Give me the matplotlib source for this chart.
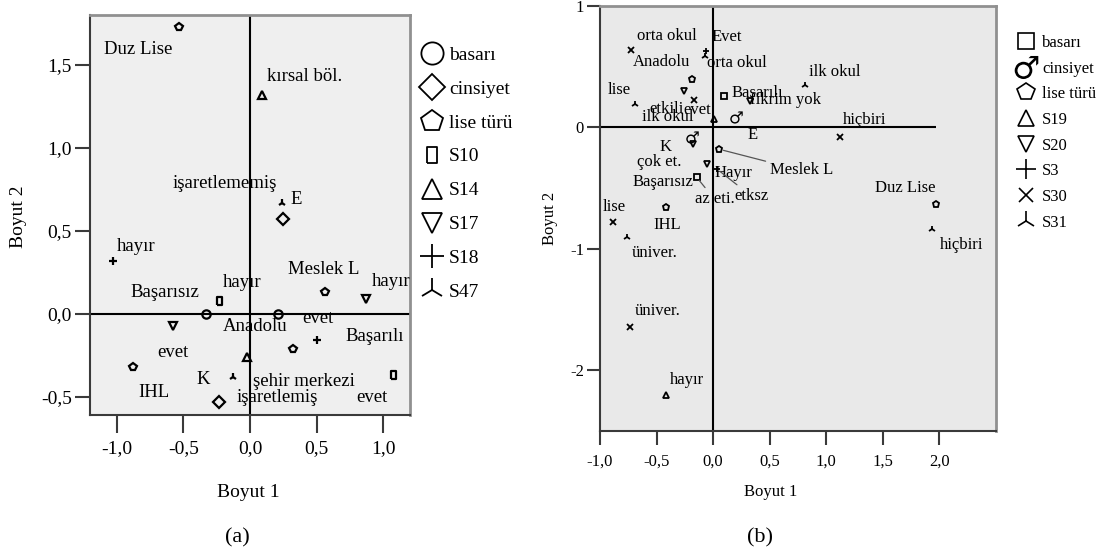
import matplotlib
matplotlib.use("Agg")
import matplotlib.pyplot as plt
from matplotlib.lines import Line2D

plt.rcParams["font.family"] = ["Liberation Serif", "DejaVu Serif"]
plt.rcParams["mathtext.fontset"] = "dejavusans"

# ---------------- panel (a) data ----------------
a_basari_x = [-0.33, 0.21]
a_basari_y = [0.00, 0.00]
a_cinsiyet_x = [0.25, -0.23]
a_cinsiyet_y = [0.57, -0.53]
a_lise_x = [-0.53, 0.56, 0.325, -0.88]
a_lise_y = [1.73, 0.134, -0.21, -0.32]
a_s10_x = [-0.23, 1.07]
a_s10_y = [0.074, -0.37]
a_s14_x = [0.09, -0.02]
a_s14_y = [1.32, -0.26]
a_s17_x = [-0.58, 0.87]
a_s17_y = [-0.076, 0.09]
a_s18_x = [-1.025, 0.50]
a_s18_y = [0.315, -0.16]
a_s47_x = [0.24, -0.125]
a_s47_y = [0.67, -0.38]

a_xticks = [-1.0, -0.5, 0.0, 0.5, 1.0]
a_yticks = [-0.5, 0.0, 0.5, 1.0, 1.5]

# category labels written next to the points (text, x, y)
a_labels = [
    ("Duz Lise", -1.095, 1.59), ("kırsal böl.", 0.128, 1.428),
    ("işaretlememiş", -0.578, 0.783), ("E", 0.30, 0.687),
    ("hayır", -0.998, 0.404), ("Meslek L", 0.285, 0.265),
    ("hayır", 0.915, 0.193), ("hayır", -0.203, 0.187),
    ("Başarısız", -0.893, 0.127), ("Anadolu", -0.203, -0.078),
    ("evet", 0.39, -0.03), ("Başarılı", 0.713, -0.139),
    ("evet", -0.698, -0.235), ("K", -0.398, -0.398),
    ("şehir merkezi", 0.0225, -0.41), ("IHL", -0.84, -0.476),
    ("işaretlemiş", -0.0975, -0.506), ("evet", 0.80, -0.506),
]

# ---------------- panel (b) data ----------------
b_basari_x = [0.094, -0.146]
b_basari_y = [0.255, -0.41]
b_cinsiyet_x = [0.20, -0.19]
b_cinsiyet_y = [0.085, -0.08]
b_lise_x = [-0.19, 0.055, -0.42, 1.97]
b_lise_y = [0.40, -0.18, -0.656, -0.63]
b_s19_x = [0.01, -0.42]
b_s19_y = [0.07, -2.20]
b_s20_x = [-0.26, 0.33, -0.18, -0.053]
b_s20_y = [0.30, 0.22, -0.14, -0.30]
b_s3_x = [-0.063, 0.03]
b_s3_y = [0.626, -0.34]
b_s30_x = [-0.726, -0.17, 1.12, -0.885, -0.735]
b_s30_y = [0.64, 0.23, -0.08, -0.78, -1.64]
b_s31_x = [-0.07, -0.69, 0.81, 1.93, -0.76]
b_s31_y = [0.59, 0.195, 0.35, -0.84, -0.90]

b_xticks = [-1.0, -0.5, 0.0, 0.5, 1.0, 1.5, 2.0]
b_yticks = [-2, -1, 0, 1]

b_labels = [
    ("orta okul", -0.673, 0.757), ("Evet", -0.011, 0.741),
    ("orta okul", -0.056, 0.527), ("Anadolu", -0.709, 0.535),
    ("lise", -0.929, 0.305), ("etkili", -0.567, 0.148),
    ("ilk okul", -0.629, 0.082), ("evet", -0.267, 0.14),
    ("Başarılı", 0.165, 0.28), ("fikrim yok", 0.33, 0.222),
    ("E", 0.306, -0.066), ("ilk okul", 0.845, 0.453),
    ("hiçbiri", 1.145, 0.058), ("Duz Lise", 1.427, -0.50),
    ("hiçbiri", 2.0, -0.97), ("K", -0.47, -0.165),
    ("çok et.", -0.673, -0.288), ("Hayır", 0.015, -0.379),
    ("Başarısız", -0.709, -0.453), ("lise", -0.974, -0.658),
    ("IHL", -0.532, -0.807), ("üniver.", -0.718, -1.037),
    ("üniver.", -0.691, -1.514), ("hayır", -0.382, -2.08),
]
# labels joined to their point by a thin leader line (text, x, y, point x, point y)
b_leaders = [
    ("Meslek L", 0.50, -0.354, 0.055, -0.18),
    ("az eti.", -0.162, -0.593, -0.146, -0.41),
    ("etksz", 0.19, -0.568, 0.03, -0.34),
]

RECT = [(-0.3, -0.5), (0.3, -0.5), (0.3, 0.5), (-0.3, 0.5), (-0.3, -0.5)]
MALE = "$\u2642$"


def comma(v, decimals=1):
    return f"{v:.{decimals}f}".replace(".", ",")


def style_axes(ax, face, xlen, ylen, size, xpad, ypad):
    ax.set_facecolor(face)
    for side in ("left", "bottom"):
        ax.spines[side].set_color("#3a3a3a")
        ax.spines[side].set_linewidth(1.5)
    for side in ("top", "right"):
        ax.spines[side].set_color("#909090")
        ax.spines[side].set_linewidth(2.0)
    ax.tick_params(axis="x", direction="out", length=xlen, width=1.5,
                   color="#3a3a3a", labelsize=size, pad=xpad)
    ax.tick_params(axis="y", direction="out", length=ylen, width=1.5,
                   color="#3a3a3a", labelsize=size, pad=ypad)


def marker_style(mk, size, mew):
    # glyph markers (mathtext) are drawn filled, the geometric ones hollow
    if mk == MALE:
        return dict(marker=mk, ms=size, mfc="black", mec="black", mew=0)
    return dict(marker=mk, ms=size, mfc="none", mec="black", mew=mew)


W, H = 1101, 557
fig = plt.figure(figsize=(W / 100, H / 100), dpi=100)

# --- (a) ---
axA = fig.add_axes([90 / W, 1 - 415 / H, 320 / W, 400 / H])
series_a = [
    (a_basari_x, a_basari_y, "o", "basarı", 16),
    (a_cinsiyet_x, a_cinsiyet_y, "D", "cinsiyet", 13),
    (a_lise_x, a_lise_y, "p", "lise türü", 16),
    (a_s10_x, a_s10_y, RECT, "S10", 12),
    (a_s14_x, a_s14_y, "^", "S14", 14),
    (a_s17_x, a_s17_y, "v", "S17", 14),
    (a_s18_x, a_s18_y, "+", "S18", 17),
    (a_s47_x, a_s47_y, "2", "S47", 18),
]
handles_a = []
for xs, ys, mk, name, lsize in series_a:
    axA.plot(xs, ys, ls="none", zorder=3, **marker_style(mk, 6, 1.6))
    handles_a.append(Line2D([], [], ls="none", label=name,
                            **marker_style(mk, lsize, 1.3)))
for txt, x, y in a_labels:
    axA.text(x, y, txt, fontsize=13.5, ha="left", va="center", zorder=4)

style_axes(axA, "#efefef", 13, 11, 14, 5, 2)
axA.axhline(0, color="black", linewidth=1.5, zorder=1)
axA.axvline(0, color="black", linewidth=1.5, zorder=1)
axA.set_xlim(-1.2, 1.2)
axA.set_ylim(-0.61, 1.8)
axA.set_xticks(a_xticks)
axA.set_xticklabels([comma(v) for v in a_xticks])
axA.set_yticks(a_yticks)
axA.set_yticklabels([comma(v) for v in a_yticks])
axA.set_xlabel("Boyut 1", fontsize=14)
axA.set_ylabel("Boyut 2", fontsize=14)
axA.xaxis.set_label_coords(0.494, -0.172)
axA.yaxis.set_label_coords(-0.197, 0.495)
fig.legend(handles=handles_a, loc="upper left", bbox_to_anchor=(420 / W, 1 - 46 / H),
           frameon=False, fontsize=14, borderpad=0, borderaxespad=0,
           handlelength=1.2, handletextpad=0.3, labelspacing=0.84)

# --- (b) ---
axB = fig.add_axes([600 / W, 1 - 431 / H, 396 / W, 425 / H])
series_b = [
    (b_basari_x, b_basari_y, "s", "basarı", 11),
    (b_cinsiyet_x, b_cinsiyet_y, MALE, "cinsiyet", 17),
    (b_lise_x, b_lise_y, "p", "lise türü", 13),
    (b_s19_x, b_s19_y, "^", "S19", 11),
    (b_s20_x, b_s20_y, "v", "S20", 11),
    (b_s3_x, b_s3_y, "+", "S3", 14),
    (b_s30_x, b_s30_y, "x", "S30", 10),
    (b_s31_x, b_s31_y, "2", "S31", 15),
]
handles_b = []
all_x = []
for xs, ys, mk, name, lsize in series_b:
    all_x += xs
    small = 9 if mk == MALE else 5
    axB.plot(xs, ys, ls="none", zorder=3, **marker_style(mk, small, 1.3))
    handles_b.append(Line2D([], [], ls="none", label=name,
                            **marker_style(mk, lsize, 1.2)))
for txt, x, y in b_labels:
    axB.text(x, y, txt, fontsize=12, ha="left", va="center", zorder=4)
for txt, x, y, px, py in b_leaders:
    axB.annotate(txt, xy=(px, py), xytext=(x, y), fontsize=12, ha="left",
                 va="center", zorder=4,
                 arrowprops=dict(arrowstyle="-", color="#555555", lw=0.9,
                                 shrinkA=1, shrinkB=3))

style_axes(axB, "#e9e9e9", 10, 9.5, 12, 6, 2)
axB.hlines(0, -1.0, max(all_x), color="black", linewidth=1.5, zorder=1)
axB.axvline(0, color="black", linewidth=1.5, zorder=1)
axB.set_xlim(-1.0, 2.5)
axB.set_ylim(-2.5, 1.0)
axB.set_xticks(b_xticks)
axB.set_xticklabels([comma(v) for v in b_xticks])
axB.set_yticks(b_yticks)
axB.set_yticklabels([str(v) for v in b_yticks])
axB.set_xlabel("Boyut 1", fontsize=12)
axB.set_ylabel("Boyut 2", fontsize=12)
axB.xaxis.set_label_coords(0.43, -0.125)
axB.yaxis.set_label_coords(-0.106, 0.5)
fig.legend(handles=handles_b, loc="upper left", bbox_to_anchor=(1018 / W, 1 - 35 / H),
           frameon=False, fontsize=12, borderpad=0, borderaxespad=0,
           handlelength=1.0, handletextpad=0.45, labelspacing=0.58)

fig.text(237 / W, 1 - 538 / H, "(a)", fontsize=16, ha="center", va="center")
fig.text(760 / W, 1 - 538 / H, "(b)", fontsize=16, ha="center", va="center")

fig.savefig("out.png", dpi=100)
